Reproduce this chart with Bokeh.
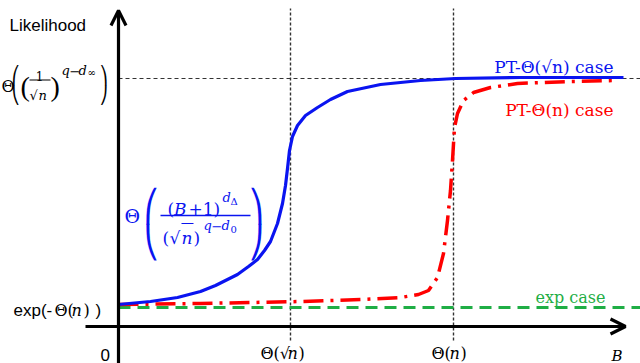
from bokeh.plotting import figure
from bokeh.models import Range1d, Label, Arrow, OpenHead
from bokeh.embed import file_html
from bokeh.resources import INLINE

# ---------------- data (x: distance along B from origin, y: likelihood height above B axis) ----
pt_sqrt_x = [0, 32, 59, 82, 97, 107, 119, 130, 139, 146, 152, 159, 164, 167, 169, 171, 174, 179, 187,
             199, 212, 229, 262, 302, 337, 402, 505]
pt_sqrt_y = [22, 25, 29, 35, 41, 46, 52, 60, 67, 76, 85, 103, 123, 141, 158, 176, 190, 201, 211,
             219, 227, 235, 242, 246, 248, 249, 249]

pt_n_x = [0, 82, 182, 242, 282, 300, 310, 319, 325, 329, 332, 334, 336, 339, 345, 355, 372, 399, 452, 499]
pt_n_y = [22, 23, 25, 27, 29, 32, 36, 49, 73, 106, 136, 166, 199, 213, 226, 234, 239, 243, 245, 246]

exp_x = [0, 522]
exp_y = [19, 19]

tick_x = [172, 335]          # Θ(√n), Θ(n)
top_level = 248              # Θ((1/√n)^(q-d∞))

# ---------------- figure ------------------------------------------------------------
OX, OY = 118, 326            # reference pixel of the origin
W, H = 640, 363
p = figure(width=W, height=H, output_backend="svg", toolbar_location=None,
           x_range=Range1d(-OX, W - OX), y_range=Range1d(OY - H, OY),
           x_axis_location=None, y_axis_location=None, min_border=0,
           styles={"position": "absolute", "left": "0px", "top": "0px"})
p.grid.visible = False
p.outline_line_color = None
p.background_fill_color = "white"

SERIF = "DejaVu Serif"
TIMES = "Liberation Serif"
SANS = "Liberation Sans"
DSANS = "DejaVu Sans"
BLUE = "#0a14f0"
RED = "#ff0000"
GREEN = "#1fae45"

# guides
p.segment(x0=tick_x, y0=[-14] * 2, x1=tick_x, y1=[318] * 2,
          line_color="#333333", line_width=1.4, line_dash="3 2")
p.segment(x0=[0], y0=[top_level], x1=[W - OX], y1=[top_level],
          line_color="#333333", line_width=1.2, line_dash="4 3")

# axes
p.add_layout(Arrow(x_start=0, y_start=OY - H, x_end=0, y_end=316, line_width=3.2,
                   end=OpenHead(size=15, line_width=3.2)))
p.add_layout(Arrow(x_start=-33, y_start=0, x_end=507, y_end=0, line_width=3.2,
                   end=OpenHead(size=15, line_width=3.2)))

# curves
p.line(exp_x, exp_y, line_color=GREEN, line_width=3, line_dash="12 7")
p.line(pt_n_x, pt_n_y, line_color=RED, line_width=3.5, line_dash="20 7 3 7", line_join="round")
p.line(pt_sqrt_x, pt_sqrt_y, line_color=BLUE, line_width=3.2, line_join="round")


def lab(x, y, text, size, font=SERIF, style="normal", color="black", align="left"):
    p.add_layout(Label(x=x - OX, y=OY - y, text=text, text_font=font,
                       text_font_size=f"{size}px", text_font_style=style,
                       text_color=color, text_align=align, text_baseline="alphabetic"))


def bar(x0, x1, y, color="black", w=1.2):
    p.segment(x0=[x0 - OX], y0=[OY - y], x1=[x1 - OX], y1=[OY - y], line_color=color, line_width=w)


def tall(x, top, size, side, color="black"):
    # tall delimiter built from the upper and lower bracket pieces
    upper, lower = ("⎛", "⎝") if side == "left" else ("⎞", "⎠")
    b1 = top + 0.928 * size
    lab(x, b1, upper, size, DSANS, color=color)
    lab(x, b1 + 1.164 * size, lower, size, DSANS, color=color)


# y axis title and levels
lab(9, 25, "Likelihood", 17, SANS)
lab(100, 354, "0", 17, SANS)
lab(13, 310, "exp(-", 17, SANS)
lab(54, 310, "Θ(", 16)
lab(71, 310, "n", 16, style="italic")
lab(83, 310, ")", 16)
lab(95, 310, ")", 17, SANS)

# left label: Θ((1/√n)^(q-d∞))
lab(1, 86, "Θ", 16)
tall(11, 59, 17, "left")
lab(20, 86, "(", 28, TIMES)
lab(39, 75, "1", 12, align="center")
bar(29, 50, 79.5)
lab(29, 95, "√", 13)
lab(38, 95, "n", 13, style="italic")
lab(50, 86, ")", 28, TIMES)
lab(61, 70, "q", 13, style="italic")
lab(69, 70, "−", 13)
lab(78, 70, "d", 13, style="italic")
lab(87, 72, "∞", 10)
tall(99, 59, 17, "right")

# x ticks
lab(260, 353, "Θ(√", 16)
lab(287, 353, "n", 16, style="italic")
lab(298, 353, ")", 16)
lab(431, 353, "Θ(", 16)
lab(449, 353, "n", 16, style="italic")
lab(460, 353, ")", 16)
lab(611, 355, "B", 15, style="italic")

# case labels
lab(613, 66, "PT-Θ(√n) case", 17, color=BLUE, align="right")
lab(613, 109, "PT-Θ(n) case", 17, color=RED, align="right")
lab(605, 297, "exp case", 16, color=GREEN, align="right")

# blue formula Θ((B+1)^dΔ / (√n)^(q-d0))
lab(124, 215, "Θ", 19, color=BLUE)
tall(143, 177, 31, "left", BLUE)
lab(167, 208, "(", 17, color=BLUE)
lab(173.5, 208, "B", 17, style="italic", color=BLUE)
lab(188, 208, "+1)", 17, color=BLUE)
lab(222, 197, "d", 13, style="italic", color=BLUE)
lab(230, 201, "Δ", 10, color=BLUE)
bar(160, 250, 215, BLUE, 1.4)
lab(162, 237, "(", 17, color=BLUE)
lab(169, 237, "√", 17, color=BLUE)
lab(181, 237, "n", 17, style="italic", color=BLUE)
bar(181, 193, 223, BLUE, 1.2)
lab(193, 237, ")", 17, color=BLUE)
lab(203, 225, "q", 13, style="italic", color=BLUE)
lab(211, 225, "−", 13, color=BLUE)
lab(221, 225, "d", 13, style="italic", color=BLUE)
lab(230, 229, "0", 10, color=BLUE)
tall(248, 177, 31, "right", BLUE)

open("out.html", "w").write(file_html(p, INLINE))
